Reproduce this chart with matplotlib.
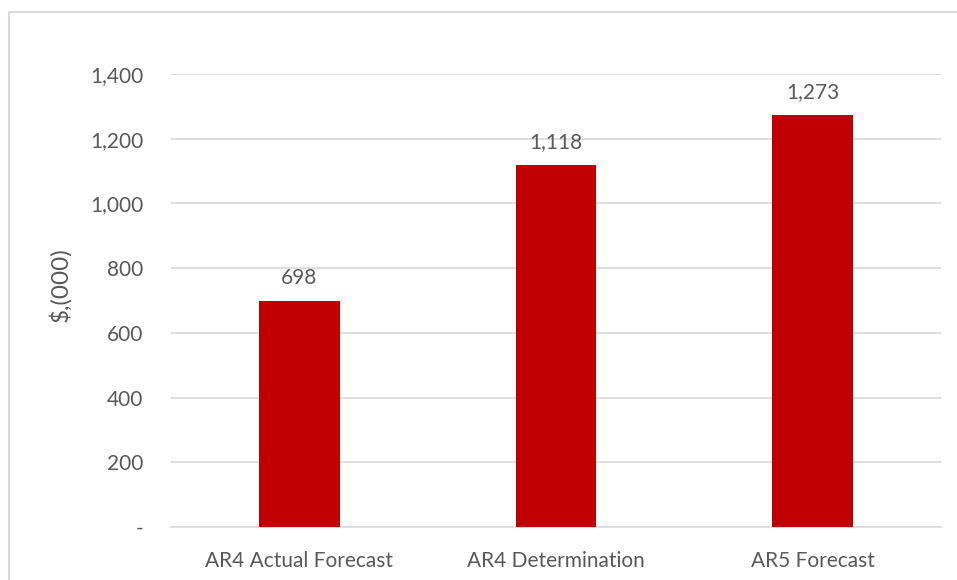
import matplotlib.pyplot as plt
from matplotlib.patches import Rectangle
from matplotlib.ticker import FuncFormatter

categories = ["AR4 Actual Forecast", "AR4 Determination", "AR5 Forecast"]
values = [698, 1118, 1273]
y_ticks = [0, 200, 400, 600, 800, 1000, 1200, 1400]

text_color = "#595959"
grid_color = "#d9d9d9"
bar_color = "#C00000"

plt.rcParams['font.family'] = ['Lato', 'DejaVu Sans']

fig = plt.figure(figsize=(9.57, 5.8), dpi=100)

# outer chart frame (runs off the right and bottom edges)
fig.patches.append(Rectangle((0.0094, -0.05), 1.1, 0.979 + 0.05,
                             transform=fig.transFigure, fill=False,
                             edgecolor=grid_color, linewidth=1.5))

ax = fig.add_axes([0.1787, 0.0914, 0.8046, 0.781])
x = range(len(categories))
bars = ax.bar(x, values, width=0.315, color=bar_color, zorder=3)

for xi, v in zip(x, values):
    ax.text(xi, v + 40, f"{v:,}", ha="center", va="bottom",
            fontsize=15, color=text_color)

ax.set_xlim(-0.5, len(categories) - 0.5)
ax.set_ylim(0, 1400)
ax.set_yticks(y_ticks)
ax.yaxis.set_major_formatter(FuncFormatter(lambda v, p: "-" if v == 0 else f"{int(v):,}"))
ax.set_xticks(list(x))
ax.set_xticklabels(categories)
ax.tick_params(length=0, labelsize=15, colors=text_color)
ax.tick_params(axis="y", pad=20)
ax.tick_params(axis="x", pad=17)
ax.grid(axis="y", color=grid_color, linewidth=1.2, zorder=0)
for s in ["top", "right", "left"]:
    ax.spines[s].set_visible(False)
ax.spines["bottom"].set_color(grid_color)
ax.spines["bottom"].set_linewidth(1.2)

ax.set_ylabel("$,(000)", fontsize=17.5, color=text_color)
ax.yaxis.set_label_coords(-0.129, 0.534)

fig.savefig("out.png", dpi=100)
